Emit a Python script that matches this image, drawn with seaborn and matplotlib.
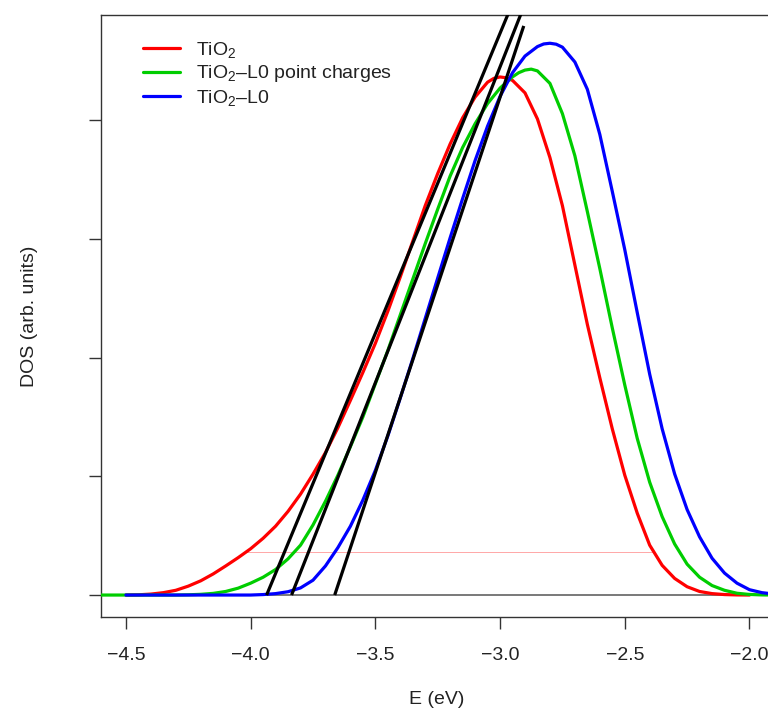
import numpy as np
import pandas as pd
import matplotlib
matplotlib.use("Agg")
import matplotlib.pyplot as plt
from matplotlib.lines import Line2D
import seaborn as sns

sns.set_style("white")
plt.rcParams['font.family'] = ['Liberation Sans', 'DejaVu Sans']
plt.rcParams['mathtext.fontset'] = 'custom'
plt.rcParams['mathtext.rm'] = 'Liberation Sans'
plt.rcParams['mathtext.it'] = 'Liberation Sans:italic'

# ---- data ----
red_x = [-4.50, -4.45, -4.40, -4.35, -4.30, -4.25, -4.20, -4.15, -4.10, -4.05,
         -4.00, -3.95, -3.90, -3.85, -3.80, -3.75, -3.70, -3.65, -3.60, -3.55,
         -3.50, -3.45, -3.40, -3.35, -3.30, -3.25, -3.20, -3.15, -3.10, -3.05,
         -3.025, -3.00, -2.975, -2.95, -2.90, -2.85, -2.80, -2.75, -2.70, -2.65,
         -2.60, -2.55, -2.50, -2.45, -2.40, -2.35, -2.30, -2.25, -2.20, -2.15,
         -2.10, -2.05, -2.00]
red_y = [0.000, 0.002, 0.008, 0.020, 0.040, 0.075, 0.120, 0.178, 0.245, 0.315,
         0.390, 0.478, 0.580, 0.705, 0.850, 1.018, 1.200, 1.410, 1.640, 1.875,
         2.120, 2.390, 2.680, 2.980, 3.280, 3.550, 3.800, 4.020, 4.195, 4.320,
         4.352, 4.364, 4.357, 4.335, 4.230, 4.010, 3.685, 3.280, 2.780, 2.280,
         1.830, 1.400, 1.010, 0.690, 0.420, 0.250, 0.140, 0.070, 0.030, 0.012,
         0.004, 0.001, 0.000]

green_x = [-4.62, -4.30, -4.25, -4.20, -4.15, -4.10, -4.05, -4.00, -3.95, -3.90,
           -3.85, -3.80, -3.75, -3.70, -3.65, -3.60, -3.55, -3.50, -3.45, -3.40,
           -3.35, -3.30, -3.25, -3.20, -3.15, -3.10, -3.05, -3.00, -2.95, -2.925,
           -2.90, -2.875, -2.85, -2.80, -2.75, -2.70, -2.65, -2.60, -2.55, -2.50,
           -2.45, -2.40, -2.35, -2.30, -2.25, -2.20, -2.15, -2.10, -2.05, -2.00,
           -1.95, -1.90]
green_y = [0.000, 0.000, 0.002, 0.006, 0.014, 0.030, 0.058, 0.100, 0.150, 0.215,
           0.305, 0.420, 0.590, 0.790, 1.010, 1.250, 1.500, 1.780, 2.060, 2.360,
           2.660, 2.960, 3.250, 3.530, 3.770, 3.970, 4.140, 4.270, 4.365, 4.400,
           4.422, 4.430, 4.415, 4.310, 4.055, 3.700, 3.230, 2.750, 2.250, 1.770,
           1.320, 0.950, 0.660, 0.430, 0.260, 0.150, 0.080, 0.040, 0.015, 0.005,
           0.001, 0.000]

blue_x = [-4.50, -4.00, -3.95, -3.90, -3.85, -3.80, -3.75, -3.70, -3.65, -3.60,
          -3.55, -3.50, -3.45, -3.40, -3.35, -3.30, -3.25, -3.20, -3.15, -3.10,
          -3.05, -3.00, -2.95, -2.90, -2.85, -2.825, -2.80, -2.775, -2.75, -2.70,
          -2.65, -2.60, -2.55, -2.50, -2.45, -2.40, -2.35, -2.30, -2.25, -2.20,
          -2.15, -2.10, -2.05, -2.00, -1.95, -1.90]
blue_y = [0.000, 0.000, 0.004, 0.012, 0.028, 0.060, 0.125, 0.245, 0.400, 0.580,
          0.800, 1.050, 1.340, 1.660, 1.990, 2.330, 2.670, 3.010, 3.340, 3.660,
          3.950, 4.200, 4.400, 4.540, 4.620, 4.642, 4.648, 4.640, 4.615, 4.490,
          4.260, 3.880, 3.400, 2.910, 2.380, 1.860, 1.400, 1.020, 0.720, 0.490,
          0.310, 0.185, 0.100, 0.045, 0.020, 0.008]

series_labels = ["TiO$_2$", "TiO$_2$\u2013L0 point charges", "TiO$_2$\u2013L0"]
series_colors = ["#FF0000", "#00CD00", "#0000FF"]

# tangent lines (start on the zero line, end near the top)
tangent_x0 = [-3.936, -3.836, -3.663]
tangent_x1 = [-2.947, -2.8965, -2.905]
tangent_y1 = [5.0, 5.0, 4.794]

# level marker line
level_y = 0.360
level_x = [-4.018, -2.386]

xticks = [-4.5, -4.0, -3.5, -3.0, -2.5, -2.0]
yticks = [0, 1, 2, 3, 4]

# ---- build long-form table ----
frames = []
for lab, xs, ys in zip(series_labels, [red_x, green_x, blue_x], [red_y, green_y, blue_y]):
    frames.append(pd.DataFrame({"E": xs, "DOS": ys, "series": lab}))
df = pd.concat(frames, ignore_index=True)

FS = 14
W, H = 768, 711
fig = plt.figure(figsize=(W / 100, H / 100), dpi=100)
ax = fig.add_axes([101 / W, (H - 617) / H, (774.4 - 101) / W, (617 - 15) / H])

ax.axhline(0, color="#555555", lw=1.1, zorder=1)
ax.plot(level_x, [level_y, level_y], color="#FF9999", lw=0.6, zorder=1)

sns.lineplot(data=df, x="E", y="DOS", hue="series", hue_order=series_labels,
             palette=series_colors, estimator=None, sort=False, lw=2.3, ax=ax,
             legend=False, zorder=3)
for ln in ax.get_lines():
    ln.set_solid_joinstyle("round")

for x0, x1, y1 in zip(tangent_x0, tangent_x1, tangent_y1):
    ax.plot([x0, x1], [0, y1], color="black", lw=2.3, zorder=4, solid_capstyle="butt")

ax.set_xlim(-4.6, -1.9)
ax.set_ylim(-0.185, 4.886)
ax.set_xticks(xticks)
ax.set_xticklabels([f"\u2212{abs(v):.1f}" for v in xticks])
ax.set_yticks(yticks)
ax.set_yticklabels([])
ax.tick_params(axis="both", direction="out", length=8.6, width=1.0, color="#333333",
               labelsize=FS, pad=13, left=True, bottom=True, labelcolor="#222222")
for s in ["left", "top", "bottom", "right"]:
    ax.spines[s].set_color("#333333")
    ax.spines[s].set_linewidth(1.0)
ax.set_xlabel("")
ax.set_ylabel("")

fig.text(437 / W, 1 - 700 / H, "E (eV)", ha="center", va="center", fontsize=FS, color="#222222")
fig.text(30 / W, 1 - 316 / H, "DOS (arb. units)", ha="center", va="center",
         rotation=90, fontsize=FS, color="#222222")

handles = [Line2D([0], [0], color=c, lw=2.3) for c in series_colors]
leg = ax.legend(handles, series_labels, loc="upper left",
                bbox_to_anchor=((143 - 101) / 673.4, 1 - (40 - 15) / 602),
                frameon=False, fontsize=FS, handlelength=1.9, handletextpad=0.85,
                labelspacing=0.18, borderaxespad=0, borderpad=0)
for t in leg.get_texts():
    t.set_color("#222222")

fig.savefig("out.png", dpi=100)
